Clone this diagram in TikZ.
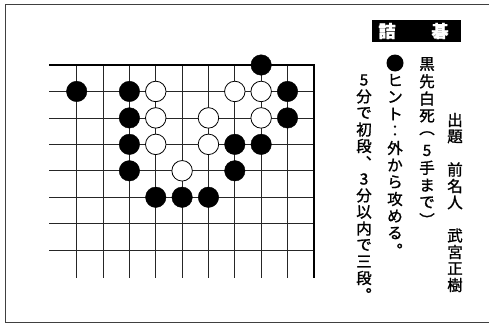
\documentclass[tikz,border=0pt]{standalone}
\usepackage{fontspec}
\newfontfamily\jp[FakeBold=1.2]{Noto Sans CJK JP}
\tikzset{
  x=1pt, y=-1pt,
  gridline/.style={line width=0.8pt, black!85},
  edgeline/.style={line width=2pt, black},
  frameline/.style={line width=1pt, black!75},
  stoneB/.style={circle, fill=black, draw=black, minimum size=20.5pt, inner sep=0pt},
  stoneW/.style={circle, fill=white, draw=black, line width=0.8pt, minimum size=20.5pt, inner sep=0pt},
  ch/.style={font=\jp\fontsize{15.5}{16}\selectfont, inner sep=0pt, anchor=center},
  titlech/.style={font=\jp\bfseries\fontsize{17}{18}\selectfont, text=white, inner sep=0pt},
}
\newcommand{\GX}[1]{76.7+26.35*#1}
\newcommand{\GY}[1]{65+26.45*#1}
\begin{document}
\begin{tikzpicture}
\useasboundingbox (0,0) rectangle (489,324);
\fill[white] (0,0) rectangle (489,324);
% outer frame
\draw[frameline] (495,4) -- (5,4) -- (5,322) -- (495,322);
% grid
\foreach \r in {1,...,7} \draw[gridline] (49,{\GY{\r}}) -- ({\GX{9}},{\GY{\r}});
\foreach \c in {0,...,8} \draw[gridline] ({\GX{\c}},{\GY{0}}) -- ({\GX{\c}},278);
\draw[edgeline] (49,{\GY{0}}) -- ({\GX{9}},{\GY{0}}) -- ({\GX{9}},278);
% stones
\foreach \c/\r in {7/0,0/1,2/1,8/1,2/2,8/2,2/3,6/3,7/3,2/4,6/4,3/5,4/5,5/5}
  \node[stoneB] (b\c\r) at ({\GX{\c}},{\GY{\r}}) {};
\foreach \c/\r in {3/1,6/1,7/1,3/2,5/2,7/2,3/3,5/3,4/4}
  \node[stoneW] (w\c\r) at ({\GX{\c}},{\GY{\r}}) {};
% title
\node[fill=black, minimum width=89pt, minimum height=22pt, inner sep=0pt, anchor=north west] (title) at (372,20) {};
\node[titlech] (t1) at (387,31) {詰};
\node[titlech] (t2) at (440,31) {碁};
% column 1
\foreach \c/\k in {出/0,題/1,前/3,名/4,人/5,武/7,宮/8,正/9,樹/10}
  \node[ch] (cA\k) at (455,{120+16.5*\k}) {\c};
% column 2
\foreach \c [count=\k from 0] in {黒,先,白,死,︵,5,手,ま,で,︶}
  \node[ch] (cB\k) at (427,{64+17.3*\k}) {\c};
% column 3
\node[circle, fill=black, minimum size=17pt, inner sep=0pt] (dot) at (395,63) {};
\foreach \c [count=\k from 1] in {ヒ,ン,ト,︰,外,か,ら,攻,め,る,︒}
  \node[ch] (cC\k) at (395,{63+17*\k}) {\c};
% column 4
\foreach \c [count=\k from 0] in {5,分,で,初,段,︑,3,分,以,内,で,三,段,︒}
  \node[ch] (cD\k) at (364,{80+16.5*\k}) {\c};
\end{tikzpicture}
\end{document}
